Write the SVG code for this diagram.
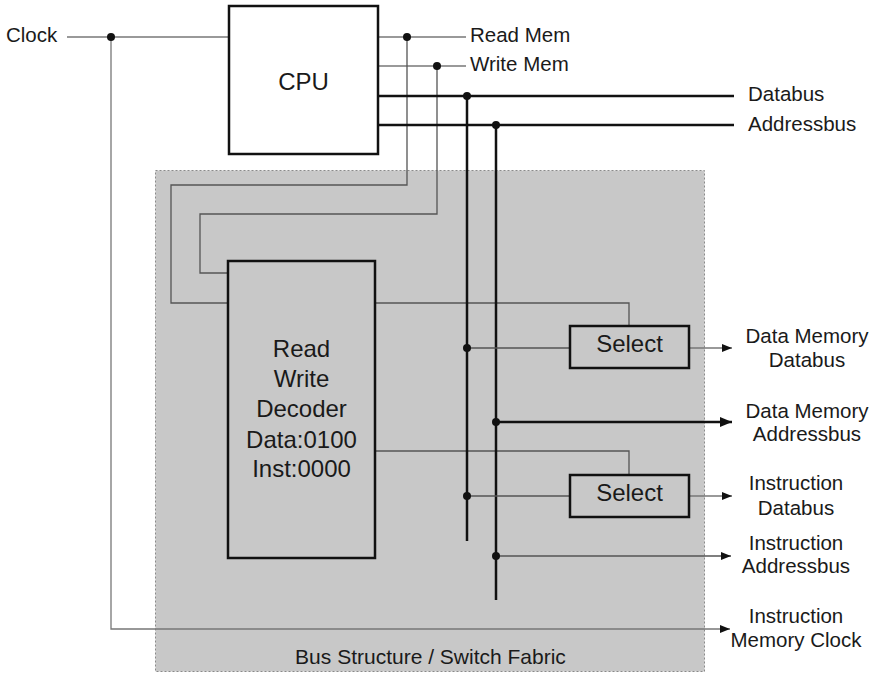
<svg xmlns="http://www.w3.org/2000/svg" width="878" height="673" viewBox="0 0 878 673">
<style>
text{font-family:"Liberation Sans",Arial,sans-serif;fill:#1a1a1a}
.lbl{font-size:20.5px}
.mid{text-anchor:middle}
.box{fill:none;stroke:#111;stroke-width:2.5}
.thin{fill:none;stroke:#777;stroke-width:1.3}
.thinD{fill:none;stroke:#555;stroke-width:1.3}
.thick{fill:none;stroke:#111;stroke-width:2.5}
.dot{fill:#111}
</style>
<defs>
<marker id="ah" viewBox="0 0 10 8" refX="10" refY="4" markerWidth="10" markerHeight="8" markerUnits="userSpaceOnUse" orient="auto"><path d="M0,0L10,4L0,8z" fill="#111"/></marker>
<marker id="ahB" viewBox="0 0 12 10" refX="12" refY="5" markerWidth="12" markerHeight="10" markerUnits="userSpaceOnUse" orient="auto"><path d="M0,0L12,5L0,10z" fill="#111"/></marker>
</defs>
<rect id="fabric" x="155.5" y="170.5" width="549" height="501" fill="#c8c8c8" stroke="#8a8a8a" stroke-width="1" stroke-dasharray="2 2"/>
<g id="connectors">
<path class="thin" d="M67,37H229"/>
<path class="thin" d="M111,37V629H730" marker-end="url(#ah)"/>
<path class="thin" d="M378,37H466"/>
<path class="thin" d="M378,66H466"/>
<path class="thinD" d="M407,37V185H171V303H228"/>
<path class="thinD" d="M437,66V214H200V273H228"/>
<path class="thinD" d="M375,303H629V326"/>
<path class="thinD" d="M375,451H629V475"/>
<path class="thick" d="M378,96H734"/>
<path class="thick" d="M378,125H734"/>
<path class="thick" d="M467,96V541"/>
<path class="thick" d="M496,125V600"/>
<path class="thinD" d="M467,348H570"/>
<path class="thinD" d="M467,496H570"/>
<path class="thick" d="M496,422H732" marker-end="url(#ahB)"/>
<path class="thinD" d="M496,556H731" marker-end="url(#ah)"/>
<path class="thin" d="M689,348H732" marker-end="url(#ah)"/>
<path class="thin" d="M689,496H732" marker-end="url(#ah)"/>
<circle class="dot" cx="111" cy="37" r="4"/>
<circle class="dot" cx="407" cy="37" r="4"/>
<circle class="dot" cx="437" cy="66" r="4"/>
<circle class="dot" cx="467" cy="96" r="4"/>
<circle class="dot" cx="496" cy="125" r="4"/>
<circle class="dot" cx="467" cy="348" r="4"/>
<circle class="dot" cx="496" cy="422" r="4"/>
<circle class="dot" cx="467" cy="496" r="4"/>
<circle class="dot" cx="496" cy="556" r="4"/>
</g>
<g id="cpu">
<rect class="box" x="229" y="6" width="149" height="148" style="fill:#fff"/>
<text x="303.5" y="90" class="mid" font-size="24">CPU</text>
</g>
<g id="decoder">
<rect class="box" x="228" y="261" width="147" height="297"/>
<text class="mid" font-size="24" x="301.5" y="357">Read</text>
<text class="mid" font-size="24" x="301.5" y="387">Write</text>
<text class="mid" font-size="24" x="301.5" y="417">Decoder</text>
<text class="mid" font-size="24" x="301.5" y="448">Data:0100</text>
<text class="mid" font-size="24" x="301.5" y="477">Inst:0000</text>
</g>
<g id="select1">
<rect class="box" x="570" y="326" width="119" height="42"/>
<text class="mid" font-size="24" x="629.5" y="352">Select</text>
</g>
<g id="select2">
<rect class="box" x="570" y="475" width="119" height="42"/>
<text class="mid" font-size="24" x="629.5" y="501">Select</text>
</g>
<g id="labels">
<text class="lbl" x="6" y="42">Clock</text>
<text class="lbl" x="470" y="42">Read Mem</text>
<text class="lbl" x="470" y="71">Write Mem</text>
<text class="lbl" x="748" y="101">Databus</text>
<text class="lbl" x="748" y="131">Addressbus</text>
<text class="lbl mid" x="807" y="343">Data Memory</text>
<text class="lbl mid" x="807" y="367">Databus</text>
<text class="lbl mid" x="807" y="418">Data Memory</text>
<text class="lbl mid" x="807" y="441">Addressbus</text>
<text class="lbl mid" x="796" y="490">Instruction</text>
<text class="lbl mid" x="796" y="515">Databus</text>
<text class="lbl mid" x="796" y="550">Instruction</text>
<text class="lbl mid" x="796" y="573">Addressbus</text>
<text class="lbl mid" x="796" y="623">Instruction</text>
<text class="lbl mid" x="796" y="647">Memory Clock</text>
<text class="mid" font-size="21" x="430.5" y="664">Bus Structure / Switch Fabric</text>
</g>
</svg>
